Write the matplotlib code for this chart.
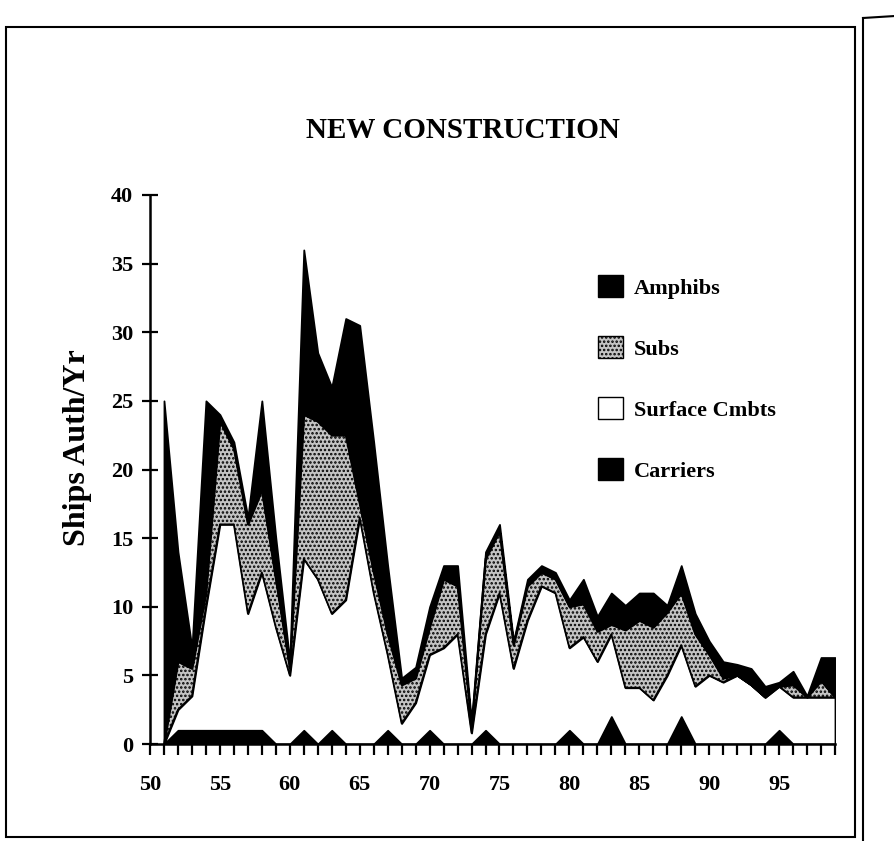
import numpy as np
import matplotlib
matplotlib.use("Agg")
import matplotlib.pyplot as plt
from matplotlib.patches import Patch, Rectangle
from matplotlib.lines import Line2D

# ships authorized per year
years = list(range(51, 100))
carriers = [0, 1, 1, 1, 1, 1, 1, 1, 0, 0,
            1, 0, 1, 0, 0, 0, 1, 0, 0, 1,
            0, 0, 0, 1, 0, 0, 0, 0, 0, 1,
            0, 0, 2, 0, 0, 0, 0, 2, 0, 0,
            0, 0, 0, 0, 1, 0, 0, 0, 0]
surface = [0, 1.5, 2.5, 9, 15, 15, 8.5, 11.5, 8.5, 5,
           12.5, 12, 8.5, 10.5, 16.5, 11, 5.5, 1.5, 3, 5.5,
           7, 8, 0.8, 7, 11, 5.5, 9, 11.5, 11, 6,
           7.8, 6, 6, 4.1, 4.1, 3.2, 5, 5.2, 4.2, 5,
           4.5, 5, 4.3, 3.4, 3.2, 3.4, 3.4, 3.4, 3.4]
subs = [0, 3.5, 2, 1, 7.5, 5.5, 6.5, 6, 3.5, 0.5,
        10.5, 11.5, 13, 12, 1, 1.5, 1.5, 2.8, 1.8, 2,
        5, 3.5, 0.5, 5.5, 4.5, 1.7, 2.5, 1, 1, 3,
        2.4, 2.2, 0.7, 4.2, 4.9, 5.3, 4.6, 3.8, 3.8, 1.5,
        0.3, 0, 0, 0, 0, 0.9, 0, 1.2, 0]
amphibs = [25, 8, 1.5, 14, 0.5, 0.5, 0.5, 6.5, 3, 0.5,
           12, 5, 3.5, 8.5, 13, 9.5, 5, 0.5, 0.8, 1.5,
           1, 1.5, 0.2, 0.5, 0.5, 0.3, 0.5, 0.5, 0.5, 0.5,
           1.8, 1.1, 2.3, 1.8, 2, 2.5, 0.5, 2, 1.5, 1,
           1.2, 0.8, 1.2, 0.8, 0.3, 1, 0.1, 1.7, 2.9]

xticks = [50, 55, 60, 65, 70, 75, 80, 85, 90, 95]
yticks = [0, 5, 10, 15, 20, 25, 30, 35, 40]

plt.rcParams['font.family'] = ['Liberation Serif', 'DejaVu Serif']
plt.rcParams['hatch.linewidth'] = 1.2

fig = plt.figure(figsize=(8.95, 8.41), dpi=100)
ax = fig.add_axes([150 / 895, 97 / 841, 685 / 895, 549 / 841])

x = np.array(years)
c1 = np.array(carriers)
c2 = c1 + np.array(surface)
c3 = c2 + np.array(subs)
c4 = c3 + np.array(amphibs)

ax.fill_between(x, 0, c1, facecolor='black', edgecolor='black', lw=1.3)
ax.fill_between(x, c1, c2, facecolor='white', edgecolor='black', lw=1.3)
ax.fill_between(x, c2, c3, facecolor='#c4c4c4', edgecolor='black', hatch='....', lw=1.3)
ax.fill_between(x, c3, c4, facecolor='black', edgecolor='black', lw=1.3)

ax.set_xlim(50, 99)
ax.set_ylim(0, 40)
ax.spines['top'].set_visible(False)
ax.spines['right'].set_visible(False)
ax.spines['left'].set_linewidth(1.8)
ax.spines['bottom'].set_linewidth(1.8)

ax.set_xticks(xticks)
ax.set_xticks(range(50, 100), minor=True)
ax.set_yticks(yticks)
ax.tick_params(axis='x', which='both', direction='out', length=8, width=1.6, pad=14)
ax.tick_params(axis='y', direction='inout', length=12, width=1.6, pad=6)
for lab in ax.get_xticklabels() + ax.get_yticklabels():
    lab.set_fontsize(16)
    lab.set_fontweight('bold')

ax.set_ylabel('Ships Auth/Yr', fontsize=23, fontweight='bold')
ax.yaxis.set_label_coords(-0.085, 0.54)

fig.text(463 / 895, 1 - 130 / 841, 'NEW CONSTRUCTION', ha='center', va='center',
         fontsize=21, fontweight='bold')

handles = [
    Patch(facecolor='black', edgecolor='black', label='Amphibs'),
    Patch(facecolor='#c4c4c4', edgecolor='black', hatch='....', label='Subs'),
    Patch(facecolor='white', edgecolor='black', label='Surface Cmbts'),
    Patch(facecolor='black', edgecolor='black', label='Carriers'),
]
leg = ax.legend(handles=handles, loc='upper left', bbox_to_anchor=(0.625, 0.89),
                frameon=False, handlelength=1.1, handleheight=1.1, handletextpad=0.5,
                labelspacing=1.7, prop={'family': 'Liberation Serif', 'weight': 'bold', 'size': 16})

# scanned page frame
fig.add_artist(Rectangle((6 / 895, 4 / 841), 849 / 895, 810 / 841, transform=fig.transFigure,
                         fill=False, edgecolor='black', lw=1.5))
fig.add_artist(Line2D([863 / 895, 863 / 895], [0, 1 - 18 / 841], transform=fig.transFigure,
                      color='black', lw=1.5))
fig.add_artist(Line2D([863 / 895, 1], [1 - 18 / 841, 1 - 16 / 841], transform=fig.transFigure,
                      color='black', lw=1.5))

fig.savefig('out.png', dpi=100)
